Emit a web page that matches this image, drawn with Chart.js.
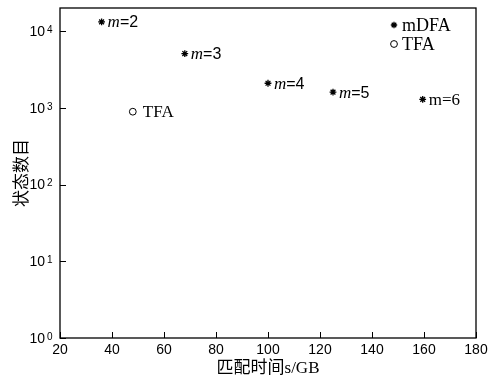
<!DOCTYPE html>
<html>
<head>
<meta charset="utf-8">
<script src="https://cdn.jsdelivr.net/npm/chart.js@4/dist/chart.umd.min.js"></script>
<style>
  html, body { margin: 0; padding: 0; background: #fff; }
  #wrap { width: 504px; height: 381px; }
</style>
</head>
<body>
<div id="wrap"><canvas id="chart"></canvas></div>
<script>
// values
const mLabels = ['m=2', 'm=3', 'm=4', 'm=5', 'm=6'];
const mdfaTime = [36, 68, 100, 125, 159.5];       // s/GB
const mdfaStates = [13200, 5100, 2090, 1600, 1290];
const tfaTime = [48];
const tfaStates = [890];
const xTicks = [20, 40, 60, 80, 100, 120, 140, 160, 180];
const yTicks = [1, 10, 100, 1000, 10000];
const yExponents = ['0', '1', '2', '3', '4'];

const SANS = '"Liberation Sans", Arial, sans-serif';
const SERIF = '"Liberation Serif", "Times New Roman", serif';
const CJK = '"Noto Sans CJK SC", sans-serif';

function drawMarker(ctx, style, x, y) {
    ctx.save();
    ctx.strokeStyle = '#000';
    ctx.lineWidth = 1;
    if (style === 'star') {
        ctx.lineWidth = 1.3;
        const r = 3.2;
        ctx.beginPath();
        for (let i = 0; i < 4; i++) {
            const a = i * Math.PI / 4;
            ctx.moveTo(x - r * Math.cos(a), y - r * Math.sin(a));
            ctx.lineTo(x + r * Math.cos(a), y + r * Math.sin(a));
        }
        ctx.stroke();
    } else {
        ctx.fillStyle = '#fff';
        ctx.beginPath();
        ctx.arc(x, y, 3.4, 0, Math.PI * 2);
        ctx.fill();
        ctx.stroke();
    }
    ctx.restore();
}

const decorations = {
    id: 'decorations',
    afterDraw(chart) {
        const { ctx, chartArea: a, scales: { x, y } } = chart;
        ctx.save();
        // frame
        ctx.strokeStyle = '#000';
        ctx.lineWidth = 1.3;
        ctx.strokeRect(a.left, a.top, a.right - a.left, a.bottom - a.top);

        // inward tick marks
        ctx.lineWidth = 1;
        ctx.beginPath();
        xTicks.forEach(v => {
            const px = Math.round(x.getPixelForValue(v)) + 0.5;
            ctx.moveTo(px, a.bottom);
            ctx.lineTo(px, a.bottom - 6);
        });
        yTicks.forEach(v => {
            const py = Math.round(y.getPixelForValue(v)) + 0.5;
            ctx.moveTo(a.left, py);
            ctx.lineTo(a.left + 6, py);
        });
        ctx.stroke();

        // y tick labels 10^n
        ctx.fillStyle = '#000';
        yTicks.forEach((v, i) => {
            const py = y.getPixelForValue(v);
            ctx.font = '14px ' + SANS;
            ctx.textAlign = 'right';
            ctx.textBaseline = 'middle';
            ctx.fillText('10', a.left - 15, py + 1);
            ctx.font = '10px ' + SANS;
            ctx.textAlign = 'left';
            ctx.textBaseline = 'top';
            ctx.fillText(yExponents[i], a.left - 13, py - 6);
        });

        // y axis title
        ctx.save();
        ctx.translate(21, (a.top + a.bottom) / 2);
        ctx.rotate(-Math.PI / 2);
        ctx.font = '17px ' + CJK;
        ctx.textAlign = 'center';
        ctx.textBaseline = 'middle';
        ctx.fillText('状态数目', 0, 0);
        ctx.restore();

        // point labels
        const meta = chart.getDatasetMeta(0);
        meta.data.forEach((pt, i) => {
            const parts = mLabels[i].split('=');
            let px = pt.x + 6;
            const py = pt.y + 1;
            ctx.textAlign = 'left';
            ctx.textBaseline = 'middle';
            if (i < mLabels.length - 1) {
                ctx.font = 'italic 17px ' + SERIF;
                ctx.fillText(parts[0], px, py);
                px += ctx.measureText(parts[0]).width;
                ctx.font = '16px ' + SANS;
                ctx.fillText('=' + parts[1], px, py);
            } else {
                ctx.font = '17px ' + SERIF;
                ctx.fillText(mLabels[i], px, py);
            }
        });
        const tMeta = chart.getDatasetMeta(1);
        tMeta.data.forEach(pt => {
            ctx.font = '17px ' + SERIF;
            ctx.textAlign = 'left';
            ctx.textBaseline = 'middle';
            ctx.fillText('TFA', pt.x + 10, pt.y + 1);
        });

        // legend inside plot area
        const lx = a.right - 82, ly = a.top + 17;
        chart.data.datasets.forEach((ds, i) => {
            const yy = ly + i * 19;
            drawMarker(ctx, ds.pointStyle === 'star' ? 'star' : 'circle', lx, yy);
            ctx.font = '18px ' + SERIF;
            ctx.textAlign = 'left';
            ctx.textBaseline = 'middle';
            ctx.fillText(ds.label, lx + 8, yy + 1);
        });
        ctx.restore();
    }
};

new Chart(document.getElementById('chart'), {
    type: 'scatter',
    data: {
        datasets: [{
            label: 'mDFA',
            data: mdfaTime.map((t, i) => ({ x: t, y: mdfaStates[i] })),
            pointStyle: 'star',
            radius: 3.4,
            borderWidth: 1.3,
            borderColor: '#000',
            backgroundColor: '#000'
        }, {
            label: 'TFA',
            data: tfaTime.map((t, i) => ({ x: t, y: tfaStates[i] })),
            pointStyle: 'circle',
            radius: 3.4,
            borderWidth: 1,
            borderColor: '#000',
            backgroundColor: '#fff'
        }]
    },
    options: {
        responsive: true,
        maintainAspectRatio: false,
        animation: false,
        layout: { padding: { top: 8, right: 28, left: 0, bottom: 0 } },
        plugins: {
            legend: { display: false },
            tooltip: { enabled: false }
        },
        scales: {
            x: {
                type: 'linear',
                min: 20,
                max: 180,
                afterBuildTicks: s => { s.ticks = xTicks.map(v => ({ value: v })); },
                grid: { display: false, drawTicks: false },
                border: { display: false },
                ticks: {
                    color: '#000',
                    font: { family: SANS, size: 14 },
                    padding: 4,
                    maxRotation: 0
                },
                title: {
                    display: true,
                    text: '匹配时间s/GB',
                    color: '#000',
                    font: { family: SERIF + ', ' + CJK, size: 17 },
                    padding: { top: 0, bottom: 2 }
                },
                afterFit: s => { s.height = 43; }
            },
            y: {
                type: 'logarithmic',
                min: 1,
                max: 20000,
                afterBuildTicks: s => { s.ticks = yTicks.map(v => ({ value: v })); },
                grid: { display: false, drawTicks: false },
                border: { display: false },
                ticks: { display: false },
                afterFit: s => { s.width = 60; }
            }
        }
    },
    plugins: [decorations]
});
</script>
</body>
</html>
